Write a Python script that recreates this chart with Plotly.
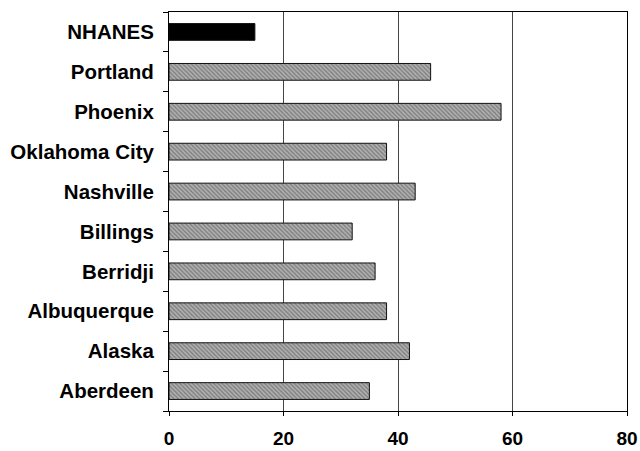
import plotly.graph_objects as go

# Sites listed bottom to top, with the national reference on top
sites = ["Aberdeen", "Alaska", "Albuquerque", "Berridji", "Billings",
         "Nashville", "Oklahoma City", "Phoenix", "Portland", "NHANES"]
values = [35, 42, 38, 36, 32, 43, 38, 58, 45.7, 15]

x_ticks = [0, 20, 40, 60, 80]

is_ref = [s == "NHANES" for s in sites]
fill = ["#000000" if r else "#b0b0b0" for r in is_ref]
hatch = ["" if r else "\\" for r in is_ref]
hatch_fg = ["#000000" if r else "#6a6a6a" for r in is_ref]

fig = go.Figure(
    go.Bar(
        x=values,
        y=sites,
        orientation="h",
        width=0.42,
        marker=dict(
            color=fill,
            line=dict(color="#111111", width=1),
            pattern=dict(shape=hatch, fgcolor=hatch_fg, bgcolor=fill,
                         size=3, solidity=0.4),
        ),
        showlegend=False,
    )
)

font = dict(family="Liberation Sans, Arial, sans-serif", size=20.5, color="black")

fig.update_layout(
    width=640,
    height=451,
    margin=dict(l=169, r=13, t=12, b=40),
    paper_bgcolor="white",
    plot_bgcolor="white",
    font=font,
)

fig.update_xaxes(
    range=[0, 80],
    tickvals=x_ticks,
    ticktext=[f"<b>{v}</b>" for v in x_ticks],
    tickfont=dict(size=19),
    showgrid=True,
    gridcolor="#444444",
    gridwidth=1,
    showline=True,
    linecolor="black",
    linewidth=1,
    mirror=True,
    ticks="outside",
    ticklen=4,
    tickcolor="black",
    zeroline=False,
    ticklabelstandoff=6,
    automargin=False,
)

fig.update_yaxes(
    categoryorder="array",
    categoryarray=sites,
    tickvals=sites,
    ticktext=[f"<b>{s}</b>" for s in sites],
    showgrid=False,
    showline=True,
    linecolor="black",
    linewidth=1,
    mirror=True,
    ticks="outside",
    tickson="boundaries",
    ticklen=5,
    tickcolor="black",
    ticklabelstandoff=10,
    automargin=False,
)

fig.write_html("out.html")
